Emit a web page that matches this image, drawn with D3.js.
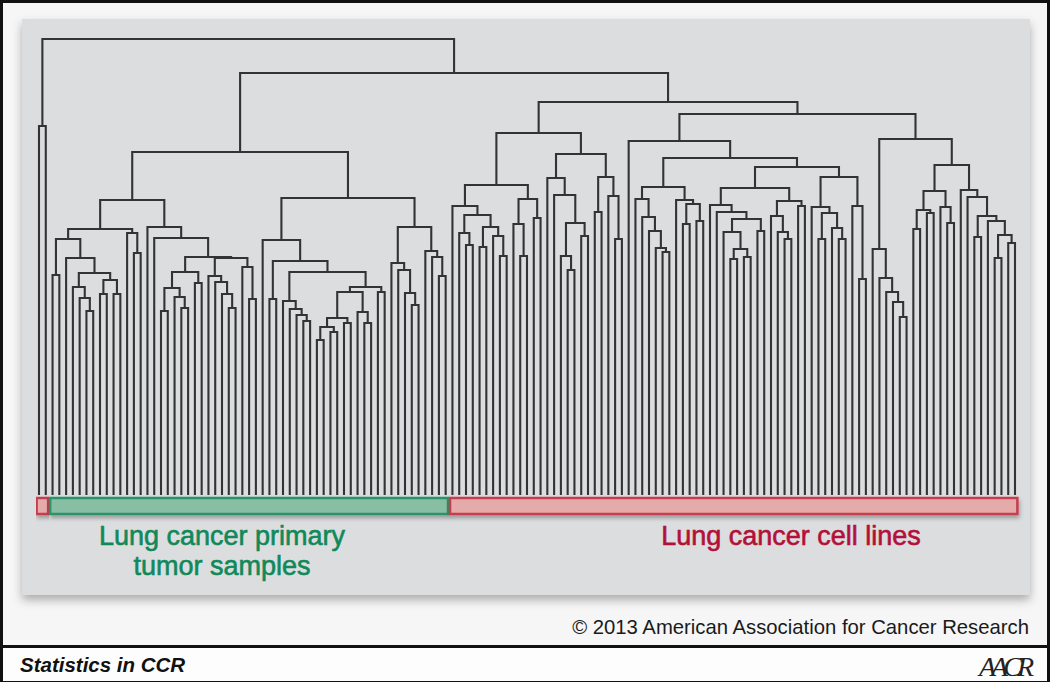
<!DOCTYPE html>
<html>
<head>
<meta charset="utf-8">
<script src="https://cdn.jsdelivr.net/npm/d3@7"></script>
<style>
  body { margin: 0; background: #fff; }
  svg { display: block; font-family: "Liberation Sans", Arial, Helvetica, sans-serif; }
</style>
</head>
<body>
<div id="chart"></div>
<script>
// Cluster tree, written as "(a,b)h": a and b merge at height h, "x" is one sample.
const leftPair = "(x,x)368";
const tumourA = "((((x,x)219,(x,((x,(x,(x,x)183)196)207,((x,x)200,(x,x)200)214)221)236)255,(x,(x,x)241)261)265," +
    "(x,(x,((((x,x)183,(x,(x,x)186)197)206,(x,x)211)222,((x,(x,(x,(x,x)186)200)212)218,(x,(x,x)195)227)236)237)256)267)294";
const tumourB = "((x,((x,x)195,((x,(x,(x,(x,x)173)179)185)193,(((((x,x)154,(x,x)162)167,(x,x)171)176,(x,(x,x)171)182)202,(x,x)202)207)222)233)254," +
    "((x,(x,(x,(x,x)189)201)224)231,(x,(x,(x,x)218)237)243)267)296";
const cellA = "(((x,((x,(x,x)249)261,((x,x)247,(x,(x,x)238)258)267)279)288,((x,(x,x)238)270,(x,x)276)295)309," +
    "((x,(x,((x,(x,x)224)238,(x,x)258)271)299)316,((x,x)282,(x,(x,x)255)298)317)340)361";
const cellB = "((x,(((x,(x,(x,(x,(x,x)242)246)263)277)295,(x,((x,x)270,(x,x)273)290)294)307," +
    "(((x,(x,((x,((x,x)235,(x,x)237)245)262,(x,x)263)275)282)289,((x,(x,(x,x)255)262)278,(x,x)288)293)306," +
    "((x,((x,x)255,(x,(x,x)255)266)281)287,(x,(x,x)215)288)317)327)336)353," +
    "((x,(x,(x,(x,(x,x)177)192)202)216)245,((((x,x)265,(x,x)281)284,(x,(x,x)271)287)303," +
    "(x,(x,((x,x)257,(x,((x,x)236,(x,x)251)259)273)278)297)304)329)355)380";
const topHeights = { tumour: 342, cells: 392, right: 421, root: 455 };

// sample groups along the bottom, left to right
const groupSizes = [2, 59, 84];
const groupFill = ["#e5abaa", "#87bea4", "#e5abaa"];
const groupStroke = ["#c63c4d", "#2b9468", "#c63c4d"];
const labelLines = [["Lung cancer primary", "tumor samples"], ["Lung cancer cell lines"]];
const labelColors = ["#10895a", "#b31039"];

const W = 1050, H = 682;
const tree = `(${leftPair},((${tumourA},${tumourB})${topHeights.tumour},(${cellA},${cellB})${topHeights.cells})${topHeights.right})${topHeights.root}`;

function parseTree(s) {
    let i = 0;
    function node() {
        if (s[i] === "x") { i++; return { height: 0 }; }
        i++;                 // (
        const a = node(); i++; // ,
        const b = node(); i++; // )
        let num = "";
        while (i < s.length && /[0-9.]/.test(s[i])) num += s[i++];
        return { height: +num, children: [a, b] };
    }
    return node();
}

const root = d3.hierarchy(parseTree(tree));
const leaves = root.leaves();
const n = leaves.length;

const x = d3.scaleLinear().domain([0, n - 1]).range([39, 1015]);
const y = d3.scaleLinear().domain([0, topHeights.root]).range([494, 39]);
const step = x(1) - x(0);

leaves.forEach((d, i) => d.px = x(i));
root.eachAfter(d => {
    if (d.children) d.px = d3.mean(d.children, c => c.px);
    d.py = y(d.data.height);
});

const svg = d3.select("#chart").append("svg")
    .attr("width", W)
    .attr("height", H);

const defs = svg.append("defs");
defs.append("filter").attr("id", "panelShadow")
    .attr("x", "-5%").attr("y", "-5%").attr("width", "110%").attr("height", "115%")
  .append("feDropShadow")
    .attr("dx", 0).attr("dy", 5).attr("stdDeviation", 5)
    .attr("flood-color", "#000").attr("flood-opacity", 0.3);
defs.append("filter").attr("id", "barShadow")
    .attr("x", "-5%").attr("y", "-50%").attr("width", "110%").attr("height", "250%")
  .append("feDropShadow")
    .attr("dx", 1).attr("dy", 3).attr("stdDeviation", 2)
    .attr("flood-color", "#000").attr("flood-opacity", 0.3);

// page background and frame
svg.append("rect").attr("width", W).attr("height", H).attr("fill", "#f6f6f6");
svg.append("rect")
    .attr("x", 22).attr("y", 19).attr("width", 1008).attr("height", 576)
    .attr("fill", "#dcdddf")
    .attr("filter", "url(#panelShadow)");

// dendrogram links
svg.append("g")
    .selectAll("path")
    .data(root.descendants().filter(d => d.children))
    .enter().append("path")
    .attr("d", d => {
        const [a, b] = d.children;
        return "M" + a.px + "," + a.py + "V" + d.py + "H" + b.px + "V" + b.py;
    })
    .attr("fill", "none")
    .attr("stroke", "#333")
    .attr("stroke-width", 2.1)
    .attr("stroke-linecap", "square");

// group bars
let start = 0;
const groups = groupSizes.map((size, i) => {
    const g = { x0: x(start) - step / 2, x1: x(start + size - 1) + step / 2, i: i };
    start += size;
    return g;
});
svg.append("g")
    .selectAll("rect")
    .data(groups)
    .enter().append("rect")
    .attr("x", d => d.x0 + 1)
    .attr("y", 498)
    .attr("width", d => d.x1 - d.x0 - 2)
    .attr("height", 16)
    .attr("fill", d => groupFill[d.i])
    .attr("stroke", d => groupStroke[d.i])
    .attr("stroke-width", 2.5)
    .attr("filter", "url(#barShadow)");

// group labels
const labelX = [222, 791];
labelLines.forEach((lines, i) => {
    svg.append("text")
        .attr("x", labelX[i])
        .attr("y", 545)
        .attr("text-anchor", "middle")
        .style("font-size", "27px")
        .style("fill", labelColors[i])
        .style("stroke", labelColors[i])
        .style("stroke-width", 0.6)
        .selectAll("tspan")
        .data(lines)
        .enter().append("tspan")
        .attr("x", labelX[i])
        .attr("dy", (d, j) => j === 0 ? 0 : 30)
        .text(d => d);
});

svg.append("text")
    .attr("x", 1029).attr("y", 634)
    .attr("text-anchor", "end")
    .style("font-size", "20.3px")
    .style("fill", "#1a1a1a")
    .text("\u00a9 2013 American Association for Cancer Research");

// footer
svg.append("rect").attr("x", 0).attr("y", 648).attr("width", W).attr("height", 34).attr("fill", "#fdfdfd");
svg.append("rect").attr("x", 0).attr("y", 645).attr("width", W).attr("height", 3).attr("fill", "#111");
svg.append("text")
    .attr("x", 20).attr("y", 672)
    .style("font-size", "20.5px")
    .style("font-weight", "bold")
    .style("font-style", "italic")
    .style("fill", "#111")
    .text("Statistics in CCR");
svg.append("text")
    .attr("x", 1029).attr("y", 676)
    .attr("text-anchor", "end")
    .style("font-family", "'Liberation Serif', serif")
    .style("font-size", "28px")
    .style("font-style", "italic")
    .style("letter-spacing", "-5px")
    .style("fill", "#222")
    .text("AACR");

// outer border
svg.append("rect")
    .attr("x", 1.5).attr("y", 1.5).attr("width", W - 3).attr("height", H - 1)
    .attr("fill", "none").attr("stroke", "#111").attr("stroke-width", 3);
</script>
</body>
</html>
